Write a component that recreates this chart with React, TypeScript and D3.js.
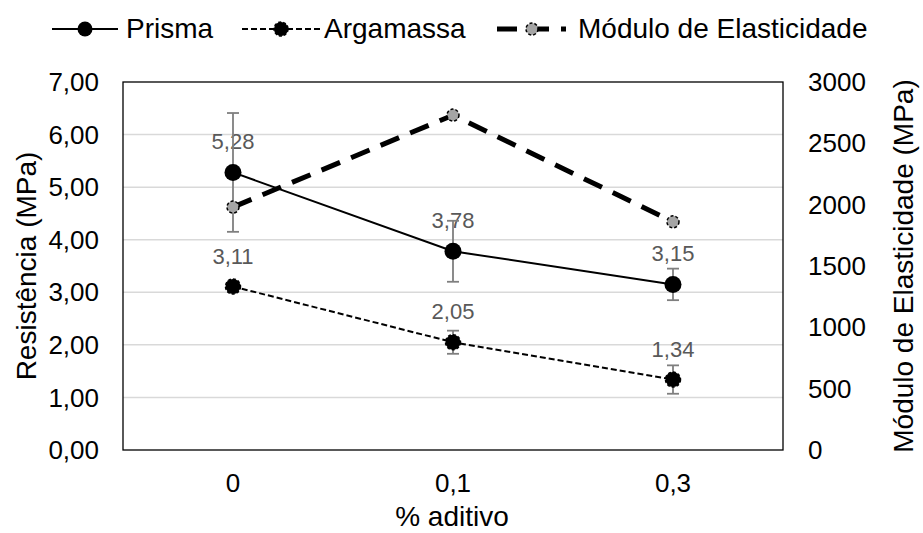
import React from "react";
import * as d3 from "d3";

const categories = ["0", "0,1", "0,3"];
const prisma = [5.28, 3.78, 3.15];
const prismaErr = [1.13, 0.58, 0.3];
const argamassa = [3.11, 2.05, 1.34];
const argamassaErr = [0.1, 0.22, 0.27];
const modulo = [1980, 2730, 1860];
const leftTicks = [0, 1, 2, 3, 4, 5, 6, 7];
const rightTicks = [0, 500, 1000, 1500, 2000, 2500, 3000];

const W = 923;
const H = 533;
const FONT = "'Liberation Sans', Arial, sans-serif";
const plot = { left: 123, right: 783, top: 82, bottom: 450 };

const fmt2 = (v: number) => d3.format(".2f")(v).replace(".", ",");

export default function App() {
  const x = d3
    .scalePoint<string>()
    .domain(categories)
    .range([plot.left, plot.right])
    .padding(0.5);
  const yL = d3.scaleLinear().domain([0, 7]).range([plot.bottom, plot.top]);
  const yR = d3.scaleLinear().domain([0, 3000]).range([plot.bottom, plot.top]);

  const lineL = d3
    .line<number>()
    .x((_, i) => x(categories[i]) as number)
    .y((d) => yL(d));
  const lineR = d3
    .line<number>()
    .x((_, i) => x(categories[i]) as number)
    .y((d) => yR(d));

  const errBars = (vals: number[], errs: number[], key: string) =>
    vals.map((v, i) => {
      const cx = x(categories[i]) as number;
      const t = yL(v + errs[i]);
      const b = yL(v - errs[i]);
      return (
        <g key={key + i} stroke="#7f7f7f" strokeWidth={1.8}>
          <line x1={cx} x2={cx} y1={t} y2={b} />
          <line x1={cx - 6} x2={cx + 6} y1={t} y2={t} />
          <line x1={cx - 6} x2={cx + 6} y1={b} y2={b} />
        </g>
      );
    });

  const labels = (vals: number[], key: string) =>
    vals.map((v, i) => (
      <text
        key={key + i}
        x={x(categories[i]) as number}
        y={yL(v) - 23}
        textAnchor="middle"
        fontSize={22}
        fill="#595959"
      >
        {fmt2(v)}
      </text>
    ));

  return (
    <svg
      width={W}
      height={H}
      style={{ position: "absolute", left: 0, top: 0, background: "#fff" }}
      fontFamily={FONT}
    >
      <rect x={0} y={0} width={W} height={H} fill="#fff" />
      {leftTicks
        .filter((t) => t > 0 && t < 7)
        .map((t) => (
          <line
            key={"g" + t}
            x1={plot.left}
            x2={plot.right}
            y1={yL(t)}
            y2={yL(t)}
            stroke="#d9d9d9"
            strokeWidth={1.5}
          />
        ))}
      <rect
        x={plot.left}
        y={plot.top}
        width={plot.right - plot.left}
        height={plot.bottom - plot.top}
        fill="none"
        stroke="#000"
        strokeWidth={1.3}
      />
      {leftTicks.map((t) => (
        <text
          key={"l" + t}
          x={99}
          y={yL(t)}
          dy="0.35em"
          textAnchor="end"
          fontSize={26}
          fill="#000"
        >
          {fmt2(t)}
        </text>
      ))}
      {rightTicks.map((t) => (
        <text
          key={"r" + t}
          x={808}
          y={yR(t)}
          dy="0.35em"
          textAnchor="start"
          fontSize={26}
          fill="#000"
        >
          {t}
        </text>
      ))}
      {categories.map((c) => (
        <text
          key={"x" + c}
          x={x(c) as number}
          y={492}
          textAnchor="middle"
          fontSize={26}
          fill="#000"
        >
          {c}
        </text>
      ))}
      <text x={452} y={526} textAnchor="middle" fontSize={28} fill="#000">
        % aditivo
      </text>
      <text
        transform={`translate(36,${(plot.top + plot.bottom) / 2}) rotate(-90)`}
        textAnchor="middle"
        fontSize={28}
        fill="#000"
      >
        Resistência (MPa)
      </text>
      <text
        transform={`translate(913,${(plot.top + plot.bottom) / 2}) rotate(-90)`}
        textAnchor="middle"
        fontSize={28}
        fill="#000"
      >
        Módulo de Elasticidade (MPa)
      </text>

      {labels(prisma, "lp")}
      {labels(argamassa, "la")}

      <path d={lineL(prisma) || ""} fill="none" stroke="#000" strokeWidth={2} />
      <path
        d={lineL(argamassa) || ""}
        fill="none"
        stroke="#000"
        strokeWidth={2}
        strokeDasharray="6,3"
      />
      {errBars(prisma, prismaErr, "ep")}
      {errBars(argamassa, argamassaErr, "ea")}
      {prisma.map((v, i) => (
        <circle key={"mp" + i} cx={x(categories[i]) as number} cy={yL(v)} r={8.5} fill="#000" />
      ))}
      {argamassa.map((v, i) => (
        <circle
          key={"ma" + i}
          cx={x(categories[i]) as number}
          cy={yL(v)}
          r={7.5}
          fill="#000"
          stroke="#000"
          strokeWidth={1.5}
          strokeDasharray="3,2"
        />
      ))}
      <path
        d={lineR(modulo) || ""}
        fill="none"
        stroke="#000"
        strokeWidth={5}
        strokeDasharray="20,12"
      />
      {modulo.map((v, i) => (
        <circle
          key={"mm" + i}
          cx={x(categories[i]) as number}
          cy={yR(v)}
          r={6}
          fill="#a5a5a5"
          stroke="#000"
          strokeWidth={1.5}
          strokeDasharray="3,2"
        />
      ))}

      <g>
        <line x1={52} x2={118} y1={29} y2={29} stroke="#000" strokeWidth={2} />
        <circle cx={85} cy={29} r={7.5} fill="#000" />
        <text x={126} y={38} fontSize={28} fill="#000">
          Prisma
        </text>
        <line
          x1={242}
          x2={320}
          y1={29}
          y2={29}
          stroke="#000"
          strokeWidth={2}
          strokeDasharray="6,3"
        />
        <circle cx={281} cy={29} r={7} fill="#000" stroke="#000" strokeWidth={1.5} strokeDasharray="3,2" />
        <text x={324} y={38} fontSize={28} fill="#000">
          Argamassa
        </text>
        <line
          x1={497}
          x2={566}
          y1={29}
          y2={29}
          stroke="#000"
          strokeWidth={5}
          strokeDasharray="20,12"
        />
        <circle cx={532} cy={29} r={6} fill="#a5a5a5" stroke="#000" strokeWidth={1.5} strokeDasharray="3,2" />
        <text x={578} y={38} fontSize={28} fill="#000">
          Módulo de Elasticidade
        </text>
      </g>
    </svg>
  );
}
